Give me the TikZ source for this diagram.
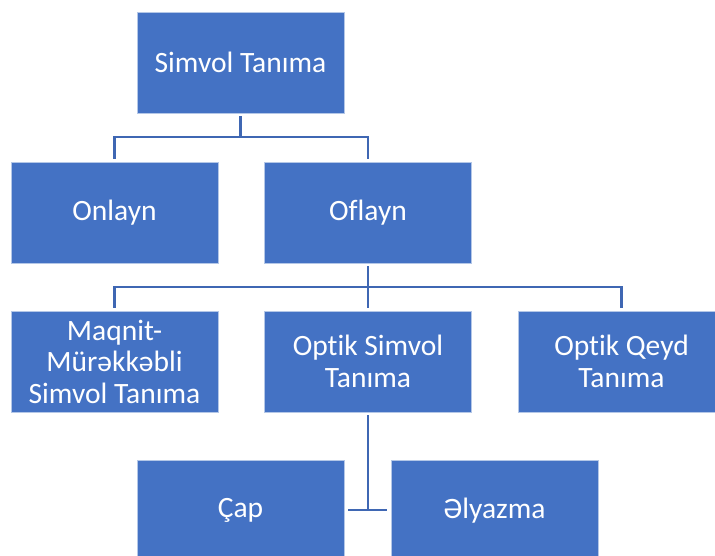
\documentclass[tikz,border=0pt]{standalone}
\usepackage{fontspec}
\setmainfont[Ligatures=NoCommon]{Carlito}
\definecolor{boxblue}{HTML}{4472C4}
\definecolor{lineblue}{HTML}{3F67B3}
\begin{document}
\begin{tikzpicture}[x=1pt,y=1pt,
  box/.style={rectangle, fill=boxblue, draw=white!60!boxblue, line width=0.8pt,
    minimum width=207pt, minimum height=101pt, inner sep=0pt,
    text=white, align=center, font=\fontsize{29.5}{31.5}\selectfont},
  conn/.style={draw=lineblue, line width=2.4pt}]
\useasboundingbox (0,0) rectangle (715,556);
\clip (0,0) rectangle (715,556);
\node[box] (top) at (240.5,493.5) {Simvol Tanıma};
\node[box] (onl) at (114.5,343.5) {Onlayn};
\node[box] (ofl) at (368,343.5) {Oflayn};
\node[box] (maq) at (114.5,194.5) {Maqnit-\\Mürəkkəbli\\Simvol Tanıma};
\node[box] (opt) at (368,194.5) {Optik Simvol\\Tanıma};
\node[box] (oqt) at (621.5,194.5) {Optik Qeyd\\Tanıma};
\node[box] (cap) at (240.5,45.5) {Çap};
\node[box] (ely) at (494.5,45.5) {Əlyazma};
\coordinate (j1) at (240.5,419);
\coordinate (j2) at (368,269);
\coordinate (j3) at (368,46);
\draw[conn] ([yshift=-3pt]top.south) -- (j1);
\draw[conn] ([yshift=3pt]onl.north) |- (j1) -| ([yshift=3pt]ofl.north);
\draw[conn] ([yshift=-3pt]ofl.south) -- (j2);
\draw[conn] ([yshift=3pt]maq.north) |- (j2) -| ([yshift=3pt]oqt.north);
\draw[conn] (j2) -- ([yshift=3pt]opt.north);
\draw[conn] ([yshift=-3pt]opt.south) -- (j3);
\draw[conn] ([xshift=4pt]cap.east |- j3) -- ([xshift=-4pt]ely.west |- j3);
\end{tikzpicture}
\end{document}
